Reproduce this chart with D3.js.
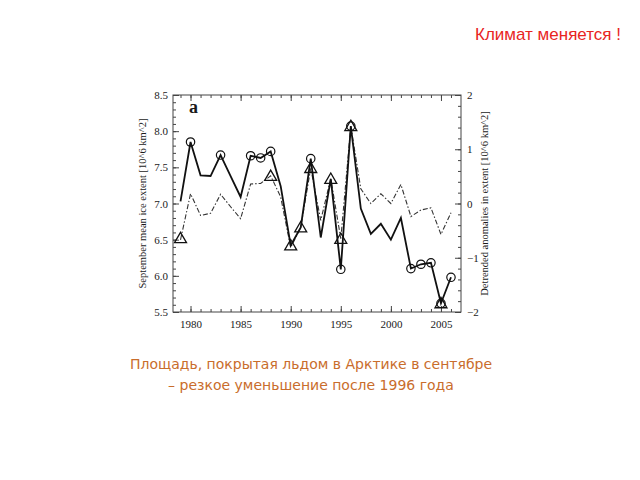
<!DOCTYPE html>
<html><head><meta charset="utf-8">
<script src="https://cdn.jsdelivr.net/npm/d3@7"></script>
<style>body{margin:0;background:#fff;} svg{display:block;}</style>
</head><body>
<svg id="c" width="640" height="480"></svg>
<script>
const years = d3.range(1979, 2007);
// September mean ice extent (left axis, 10^6 km^2)
const extent = [7.03,7.85,7.39,7.38,7.67,7.38,7.09,7.66,7.63,7.72,7.24,6.42,6.67,7.62,6.53,7.34,6.09,8.07,6.93,6.58,6.72,6.50,6.80,6.10,6.16,6.18,5.62,5.98];
// Detrended anomalies (right axis, 10^6 km^2)
const anomaly = [-0.67,0.18,-0.22,-0.18,0.17,-0.06,-0.28,0.36,0.37,0.51,0.12,-0.81,-0.44,0.65,-0.31,0.46,-0.65,1.42,0.27,0.0,0.18,0.0,0.35,-0.24,-0.12,-0.08,-0.57,-0.17];
// circles marked on the extent series
const circleYears = [1980,1983,1986,1987,1988,1992,1995,1996,2002,2003,2004,2005,2006];
// triangles (left-axis units)
const triangleYears = [1979,1988,1990,1991,1992,1994,1995,1996,2005];
const triangleValues = [6.52,7.38,6.42,6.67,7.49,7.34,6.51,8.07,5.62];
const leftTicks = [5.5,6.0,6.5,7.0,7.5,8.0,8.5];
const rightTicks = [-2,-1,0,1,2];
const xTicks = [1980,1985,1990,1995,2000,2005];

const svg = d3.select("#c");
const L=173, R=461, T=95, B=312;
const x = d3.scaleLinear().domain([1978.25,2007]).range([L,R]);
const yL = d3.scaleLinear().domain([5.5,8.5]).range([B,T]);
const yR = d3.scaleLinear().domain([-2,2]).range([B,T]);
const serif = "Liberation Serif, Times New Roman, serif";
const ink = "#1a1a1a";

svg.append("rect").attr("x",L).attr("y",T).attr("width",R-L).attr("height",B-T)
  .attr("fill","none").attr("stroke","#444").attr("stroke-width",1);

function styleAxis(g){
  g.select(".domain").remove();
  g.selectAll("line").attr("stroke","#444");
  g.selectAll("text").attr("font-family",serif).attr("font-size",11).attr("fill",ink);
}
const minorX = d3.range(1979,2007);
svg.append("g").attr("transform",`translate(0,${B})`).call(d3.axisBottom(x).tickValues(minorX).tickSize(-3).tickFormat("")).call(styleAxis);
svg.append("g").attr("transform",`translate(0,${T})`).call(d3.axisTop(x).tickValues(minorX).tickSize(-3).tickFormat("")).call(styleAxis);
svg.append("g").attr("transform",`translate(0,${B})`).call(d3.axisBottom(x).tickValues(xTicks).tickSize(-6).tickPadding(8).tickFormat(d3.format("d"))).call(styleAxis);
svg.append("g").attr("transform",`translate(0,${T})`).call(d3.axisTop(x).tickValues(xTicks).tickSize(-6).tickFormat("")).call(styleAxis);

const minorL = d3.range(55,86).map(v=>v/10);
svg.append("g").attr("transform",`translate(${L},0)`).call(d3.axisLeft(yL).tickValues(minorL).tickSize(-3).tickFormat("")).call(styleAxis);
svg.append("g").attr("transform",`translate(${L},0)`).call(d3.axisLeft(yL).tickValues(leftTicks).tickSize(-6).tickPadding(5).tickFormat(d3.format(".1f"))).call(styleAxis);
const minorR = d3.range(-10,11).map(v=>v/5);
svg.append("g").attr("transform",`translate(${R},0)`).call(d3.axisRight(yR).tickValues(minorR).tickSize(-3).tickFormat("")).call(styleAxis);
svg.append("g").attr("transform",`translate(${R},0)`).call(d3.axisRight(yR).tickValues(rightTicks).tickSize(-6).tickPadding(6).tickFormat(d3.format("d"))).call(styleAxis);

svg.append("text").attr("transform",`translate(146,${(T+B)/2}) rotate(-90)`).attr("text-anchor","middle")
  .attr("font-family",serif).attr("font-size",10.5).attr("fill",ink).text("September mean ice extent [10^6 km^2]");
svg.append("text").attr("transform",`translate(488,${(T+B)/2}) rotate(-90)`).attr("text-anchor","middle")
  .attr("font-family",serif).attr("font-size",10.5).attr("fill",ink).text("Detrended anomalies in extent [10^6 km^2]");
svg.append("text").attr("x",189).attr("y",113).attr("font-family",serif).attr("font-size",18).attr("font-weight","bold").attr("fill",ink).text("a");

const dashData = years.map((yr,i)=>({yr,v:anomaly[i]}));
const solidData = years.map((yr,i)=>({yr,v:extent[i]}));
svg.append("path").datum(dashData).attr("fill","none").attr("stroke","#333").attr("stroke-width",1.1)
  .attr("stroke-dasharray","5,2,1.5,2")
  .attr("d",d3.line().x(d=>x(d.yr)).y(d=>yR(d.v)));
svg.append("path").datum(solidData).attr("fill","none").attr("stroke","#111").attr("stroke-width",1.8)
  .attr("d",d3.line().x(d=>x(d.yr)).y(d=>yL(d.v)));

svg.append("g").selectAll("circle").data(circleYears).join("circle")
  .attr("cx",d=>x(d)).attr("cy",d=>yL(extent[years.indexOf(d)])).attr("r",4.2)
  .attr("fill","none").attr("stroke","#111").attr("stroke-width",1.2);
const tri = d3.symbol().type(d3.symbolTriangle).size(62);
svg.append("g").selectAll("path").data(triangleYears).join("path")
  .attr("transform",(d,i)=>`translate(${x(d)},${yL(triangleValues[i])+1})`).attr("d",tri)
  .attr("fill","none").attr("stroke","#111").attr("stroke-width",1.3);

svg.append("text").attr("x",621).attr("y",40).attr("text-anchor","end")
  .attr("font-family","Liberation Sans, Arial, sans-serif").attr("font-size",17).attr("fill","#e8251f").text("Климат меняется !");
const cap = svg.append("text").attr("text-anchor","middle").attr("font-family","DejaVu Sans, Verdana, sans-serif")
  .attr("font-size",14).attr("fill","#c96d2c");
cap.append("tspan").attr("x",311).attr("y",369).text("Площадь, покрытая льдом в Арктике в сентябре");
cap.append("tspan").attr("x",311).attr("y",390).text("– резкое уменьшение после 1996 года");
</script>
</body></html>
